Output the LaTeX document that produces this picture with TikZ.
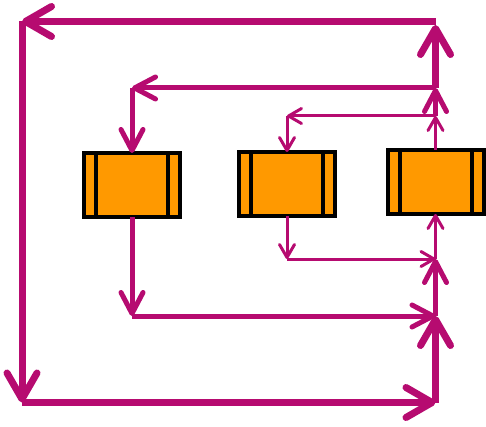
\documentclass[tikz,border=0pt]{standalone}
\usetikzlibrary{arrows.meta}
\definecolor{mag}{RGB}{182,11,112}
\definecolor{boxor}{RGB}{255,153,0}
\tikzset{
  procbox/.style={draw=black, line width=4pt, fill=boxor, minimum width=96pt, minimum height=64pt, inner sep=0pt, outer sep=0pt},
  innerline/.style={draw=black, line width=4pt},
  thinarr/.style={draw=mag, line width=3pt, -{Straight Barb[length=13pt, width=15pt, round]}},
  midarr/.style={draw=mag, line width=5pt, -{Straight Barb[length=21pt, width=22pt, round]}},
  thickarr/.style={draw=mag, line width=7pt, -{Straight Barb[length=26pt, width=30pt, round]}}
}
\begin{document}
\begin{tikzpicture}[x=1pt, y=-1pt]
\useasboundingbox (0,0) rectangle (486,427);
% boxes
\node[procbox] (b1) at (132,185) {};
\node[procbox] (b2) at (287,184) {};
\node[procbox] (b3) at (435.5,182) {};
\foreach \b in {b1,b2,b3}{
  \draw[innerline] ([xshift=12pt]\b.north west) -- ([xshift=12pt]\b.south west);
  \draw[innerline] ([xshift=-12pt]\b.north east) -- ([xshift=-12pt]\b.south east);
}
% junction coordinates
\coordinate (T1) at (435.5,116);
\coordinate (T1L) at (287,116);
\coordinate (T2) at (435.5,259);
\coordinate (T2L) at (287,259);
\coordinate (M1) at (435.5,88);
\coordinate (M1L) at (132,88);
\coordinate (M2) at (435.5,316);
\coordinate (M2L) at (132,316);
\coordinate (TR) at (435.5,21.5);
\coordinate (TRe) at (435.5,25);
\coordinate (TL) at (22,21.5);
\coordinate (BL) at (22,402.5);
\coordinate (BR) at (435.5,402.5);
% thin loop
\draw[thinarr] (b3.north) -- (T1);
\draw[thinarr] (T1) -- (T1L);
\draw[thinarr] (T1L) -- (b2.north);
\draw[thinarr] (b2.south) -- (T2L);
\draw[thinarr] (T2L) -- (T2);
\draw[thinarr] (T2) -- (b3.south);
% medium loop
\draw[midarr] (T1) -- (M1);
\draw[midarr] (M1) -- (M1L);
\draw[midarr] (M1L) -- (b1.north);
\draw[midarr] (b1.south) -- (M2L);
\draw[midarr] (M2L) -- (M2);
\draw[midarr] (M2) -- (T2);
% thick loop
\draw[thickarr] (M1) -- (TRe);
\draw[thickarr] (TR) -- (TL);
\draw[thickarr] (TL) -- (BL);
\draw[thickarr] (BL) -- (BR);
\draw[thickarr] (BR) -- (M2);
\end{tikzpicture}
\end{document}
